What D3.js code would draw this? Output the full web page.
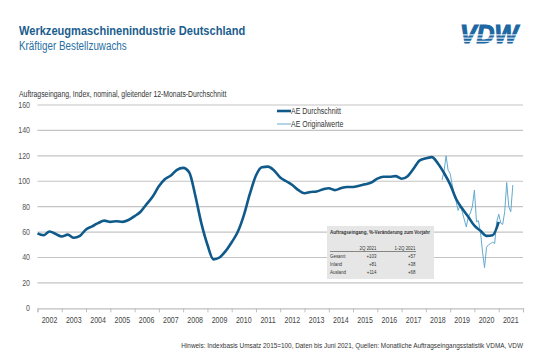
<!DOCTYPE html>
<html>
<head>
<meta charset="utf-8">
<script src="https://cdn.jsdelivr.net/npm/d3@7"></script>
<style>
  body { margin: 0; background: #fff; }
  svg { display: block; font-family: "Liberation Sans Narrow", "Arial Narrow", "Liberation Sans", Arial, sans-serif; }
</style>
</head>
<body>
<div id="chart"></div>
<script>
// 12-Monats-Durchschnitt, quarterly readings from Jan 2002
var avgStart = '2002-01';
var avgValues = [
  59, 57.5, 60.5, 58.5, 56.5, 58, 55.5, 57,        // 2002-2003
  62, 64.5, 67, 69, 68, 68.5, 68, 69.5,            // 2004-2005
  72.5, 76, 82, 88, 96, 101.5, 104.5, 109,         // 2006-2007
  110.5, 107, 89, 67, 50, 38.5, 40, 45,            // 2008-2009
  52, 60, 73, 90, 104.5, 111, 111.5, 108.5,        // 2010-2011
  103, 100, 97, 93, 90.5, 91.5, 92, 93.5,          // 2012-2013
  94.5, 93, 94.5, 95.5, 95.5, 96.5, 97.6, 99,      // 2014-2015
  102, 103.5, 103.5, 104, 102, 104, 110, 116.5,    // 2016-2017
  118, 119, 114, 106.5, 97.5, 86, 78.5, 72,        // 2018-2019
  65, 61, 57, 57.5, 68                             // 2020-2021
];

// Originalwerte, monthly from Sep 2018
var origStart = '2018-09';
var origValues = [
  101, 108, 120, 108.7, 106, 97, 90, 84, 77, 81, 76, 70,
  64, 72, 75, 80, 93, 68, 69, 60, 45, 32, 48, 50,
  51, 52, 51, 68, 74, 67, 66, 76, 99, 80, 76, 97
];

var years = d3.range(2002, 2022);
var yTicks = [0, 20, 40, 60, 80, 100, 120, 140, 160];

var seriesNames = ['AE Durchschnitt', 'AE Originalwerte'];

var tableTitle = 'Auftragseingang, %-Veränderung zum Vorjahr';
var tableCols = ['2Q 2021', '1-2Q 2021'];
var tableRows = ['Gesamt', 'Inland', 'Ausland'];
var tableQ2 = ['+103', '+81', '+114'];
var tableH1 = ['+57', '+38', '+68'];

var parseMonth = d3.timeParse('%Y-%m');

var avgData = avgValues.map(function(v, i) {
  return { date: d3.timeMonth.offset(parseMonth(avgStart), i * 3), value: v };
});
var origData = origValues.map(function(v, i) {
  return { date: d3.timeMonth.offset(parseMonth(origStart), i), value: v };
});

var width = 540, height = 360;
var plotLeft = 37.5, plotRight = 523, plotTop = 105, plotBottom = 308.3;
var darkBlue = '#0f5a8a', lightBlue = '#64a9cf';

var svg = d3.select('#chart').append('svg')
            .attr('width', width)
            .attr('height', height);

var x = d3.scaleTime()
          .domain([new Date(2002, 0, 1), new Date(2022, 0, 1)])
          .range([plotLeft, plotRight]);
var y = d3.scaleLinear()
          .domain([0, 160])
          .range([plotBottom, plotTop]);

// header
svg.append('text')
   .attr('class', 'narrow')
   .attr('x', 19).attr('y', 35)
   .attr('font-size', 13.5).attr('font-weight', 'bold')
   .attr('fill', '#1b5e8e')
   .text('Werkzeugmaschinenindustrie Deutschland');
svg.append('text')
   .attr('class', 'narrow')
   .attr('x', 19).attr('y', 50)
   .attr('font-size', 12)
   .attr('fill', '#2a6fa3')
   .text('Kräftiger Bestellzuwachs');

// VDW logo
var logo = svg.append('g');
logo.append('text')
    .attr('x', 489).attr('y', 43)
    .attr('text-anchor', 'middle')
    .attr('font-family', 'Liberation Sans, Arial, sans-serif')
    .attr('font-size', 25).attr('font-weight', 'bold').attr('font-style', 'italic')
    .attr('fill', '#1d67a3')
    .attr('stroke', '#1d67a3').attr('stroke-width', 1.1)
    .attr('textLength', 58).attr('lengthAdjust', 'spacingAndGlyphs')
    .text('VDW');
[34.4, 37.6, 40.8].forEach(function(yy) {
  logo.append('rect').attr('x', 455).attr('y', yy).attr('width', 70).attr('height', 1).attr('fill', '#fff');
});

svg.append('text')
   .attr('class', 'narrow')
   .attr('x', 19).attr('y', 97)
   .attr('font-size', 8.4)
   .attr('fill', '#333')
   .text('Auftragseingang, Index, nominal, gleitender 12-Monats-Durchschnitt');

// grid + y labels
svg.append('g')
   .selectAll('line')
   .data(yTicks.slice(1))
   .enter()
   .append('line')
     .attr('x1', plotLeft).attr('x2', plotRight)
     .attr('y1', function(d) { return y(d); })
     .attr('y2', function(d) { return y(d); })
     .attr('stroke', '#c4c4c4')
     .attr('stroke-width', 1.2);

svg.append('g')
   .selectAll('text')
   .data(yTicks)
   .enter()
   .append('text')
     .attr('class', 'narrow')
     .attr('x', 30)
     .attr('y', function(d) { return y(d) + 3; })
     .attr('text-anchor', 'end')
     .attr('font-size', 8.6)
     .attr('fill', '#555')
     .text(function(d) { return d; });

// x axis
var xAxis = svg.append('g')
   .attr('transform', 'translate(0,' + plotBottom + ')')
   .call(d3.axisBottom(x)
           .tickValues(years.concat([2022]).map(function(yr) { return new Date(yr, 0, 1); }))
           .tickSize(4)
           .tickFormat(''));
xAxis.select('.domain').attr('stroke', '#bfbfbf').attr('stroke-width', 1.2);
xAxis.selectAll('.tick line').attr('stroke', '#bfbfbf');

svg.append('g')
   .selectAll('text')
   .data(years)
   .enter()
   .append('text')
     .attr('class', 'narrow')
     .attr('x', function(d) { return x(new Date(d, 6, 1)); })
     .attr('y', 323)
     .attr('text-anchor', 'middle')
     .attr('font-size', 8.6)
     .attr('fill', '#444')
     .text(function(d) { return d; });

// lines
var line = d3.line()
             .x(function(d) { return x(d.date); })
             .y(function(d) { return y(d.value); });

svg.append('path')
   .datum(origData)
   .attr('d', line)
   .attr('fill', 'none')
   .attr('stroke', lightBlue)
   .attr('stroke-width', 1);

svg.append('path')
   .datum(avgData)
   .attr('d', line.curve(d3.curveMonotoneX))
   .attr('fill', 'none')
   .attr('stroke', darkBlue)
   .attr('stroke-width', 2.6)
   .attr('stroke-linejoin', 'round');

// legend
var legend = svg.append('g');
legend.selectAll('line')
      .data(seriesNames)
      .enter()
      .append('line')
        .attr('x1', 277).attr('x2', 291)
        .attr('y1', function(d, i) { return 111 + i * 13; })
        .attr('y2', function(d, i) { return 111 + i * 13; })
        .attr('stroke', function(d, i) { return i ? lightBlue : darkBlue; })
        .attr('stroke-width', function(d, i) { return i ? 1 : 2.6; });
legend.selectAll('text')
      .data(seriesNames)
      .enter()
      .append('text')
        .attr('class', 'narrow')
        .attr('x', 291)
        .attr('y', function(d, i) { return 114 + i * 13; })
        .attr('font-size', 8.5)
        .attr('fill', '#333')
        .text(function(d) { return d; });

// small table
var tbl = svg.append('g');
tbl.append('rect')
   .attr('x', 327).attr('y', 226).attr('width', 107).attr('height', 53)
   .attr('fill', '#e6e6e6');
tbl.append('text')
   .attr('class', 'narrow')
   .attr('x', 330).attr('y', 233.5)
   .attr('font-size', 5.6).attr('font-weight', 'bold').attr('fill', '#333')
   .text(tableTitle);
var colX = [376.5, 415.5];
tableCols.forEach(function(c, i) {
  tbl.append('text')
     .attr('class', 'narrow')
     .attr('x', colX[i]).attr('y', 249.5)
     .attr('text-anchor', 'end')
     .attr('font-size', 5.4).attr('fill', '#333')
     .text(c);
});
tbl.append('line')
   .attr('x1', 330).attr('x2', 416).attr('y1', 251.5).attr('y2', 251.5)
   .attr('stroke', '#444').attr('stroke-width', 0.6);
tableRows.forEach(function(r, i) {
  var yy = 258 + i * 8;
  tbl.append('text').attr('class', 'narrow').attr('x', 330).attr('y', yy)
     .attr('font-size', 5.4).attr('fill', '#333').text(r);
  tbl.append('text').attr('class', 'narrow').attr('x', colX[0]).attr('y', yy).attr('text-anchor', 'end')
     .attr('font-size', 5.4).attr('fill', '#333').text(tableQ2[i]);
  tbl.append('text').attr('class', 'narrow').attr('x', colX[1]).attr('y', yy).attr('text-anchor', 'end')
     .attr('font-size', 5.4).attr('fill', '#333').text(tableH1[i]);
});

// footnote
svg.append('text')
   .attr('class', 'narrow')
   .attr('x', 523).attr('y', 348)
   .attr('text-anchor', 'end')
   .attr('font-size', 7.8)
   .attr('fill', '#333')
   .text('Hinweis: Indexbasis Umsatz 2015=100, Daten bis Juni 2021, Quellen: Monatliche Auftragseingangsstatistik VDMA, VDW');

// squeeze texts to look like a narrow face (no narrow font installed)
svg.selectAll('text.narrow').each(function() {
  var w = this.getComputedTextLength();
  d3.select(this)
    .attr('textLength', w * 0.82)
    .attr('lengthAdjust', 'spacingAndGlyphs');
});
</script>
</body>
</html>
